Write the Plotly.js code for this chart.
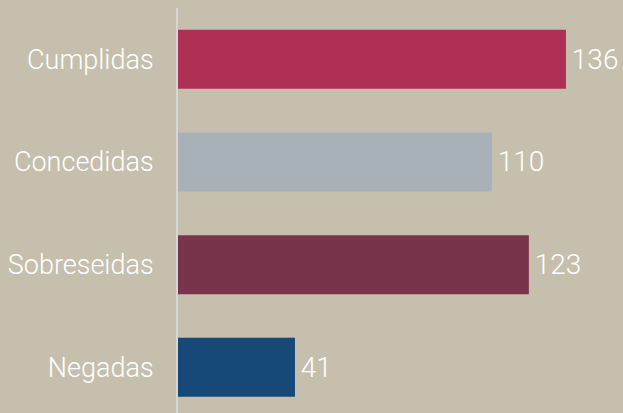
<!DOCTYPE html>
<html><head><meta charset="utf-8">
<script src="https://cdn.plot.ly/plotly-3.0.1.min.js"></script>
<style>html,body{margin:0;padding:0;background:#C6BFAD;}#c{width:623px;height:413px;}</style>
</head><body><div id="c"></div>
<script>
const categories = ["Cumplidas", "Concedidas", "Sobreseidas", "Negadas"];
const values = [136, 110, 123, 41];
const colors = ["#AE3055", "#A8B0B8", "#78344B", "#164878"];

Plotly.newPlot('c', [{
  type: 'bar', orientation: 'h',
  x: values, y: categories,
  marker: {color: colors, line: {width: 0}},
  width: 0.575,
  text: values.map(v => '\u200A' + v), textposition: 'outside', cliponaxis: false,
  textfont: {family: 'Roboto', size: 28, color: '#FFFFFF', weight: 300},
  hoverinfo: 'none'
}], {
  width: 623, height: 413,
  paper_bgcolor: '#C6BFAD', plot_bgcolor: '#C6BFAD',
  margin: {l: 178, r: 0, t: 8, b: 0},
  showlegend: false,
  xaxis: {range: [0, 156], showgrid: false, zeroline: false, showticklabels: false, showline: false},
  yaxis: {type: 'category', range: [3.445, -0.5], showgrid: false, zeroline: false,
    showline: true, linecolor: '#D6D6D6', linewidth: 2, ticks: '',
    ticklabelstandoff: 17,
    tickfont: {family: 'Roboto', size: 27, color: '#FFFFFF', weight: 300}},
  font: {family: 'Roboto', color: '#FFFFFF'}
}, {staticPlot: true, displayModeBar: false});
</script></body></html>
